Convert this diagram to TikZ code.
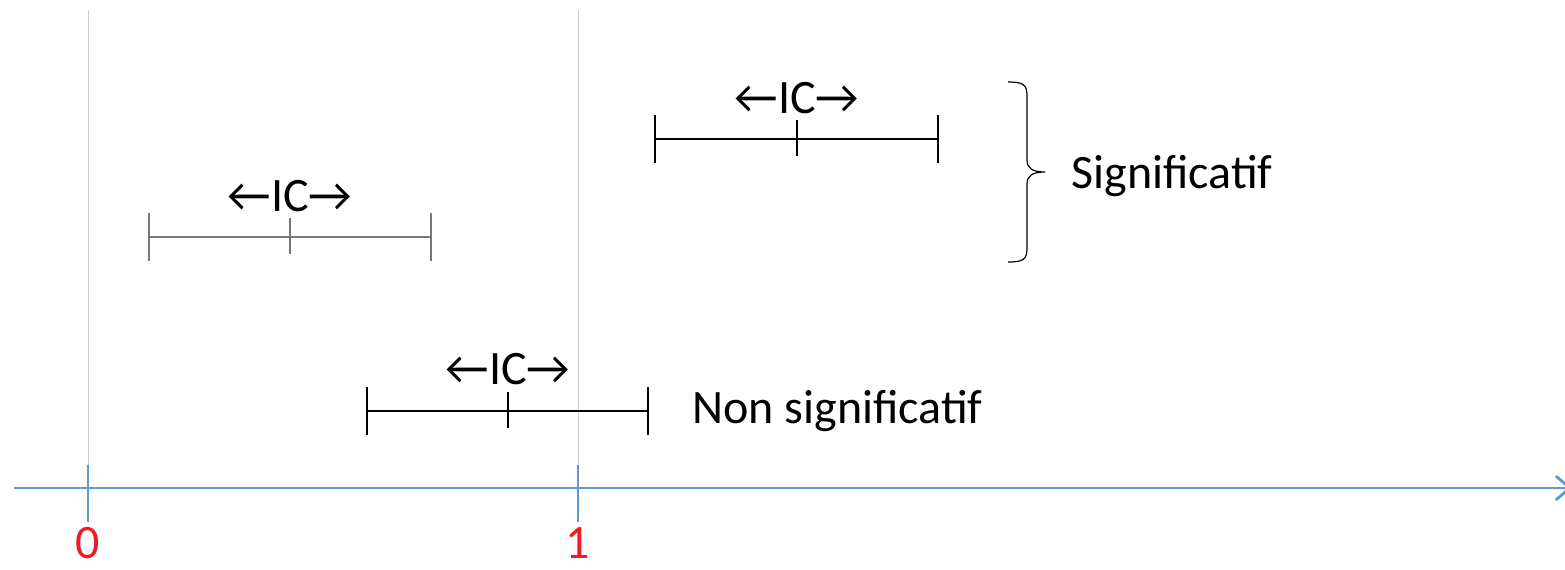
\documentclass[tikz,border=0pt]{standalone}
\usepackage{fontspec}
\setmainfont{Carlito}
\usepackage{tikz}
\usetikzlibrary{positioning,arrows.meta}
\definecolor{axisblue}{RGB}{91,155,213}
\definecolor{refgrey}{RGB}{205,205,205}
\definecolor{midgrey}{RGB}{120,120,120}
\definecolor{numred}{RGB}{237,28,36}

\begin{document}
\begin{tikzpicture}[x=0.5pt,y=-0.5pt,
refline/.style={draw=refgrey, line width=0.5pt},
axis/.style={draw=axisblue, line width=1.4pt},
tick/.style={draw=axisblue, line width=0.6pt},
ci/.style={line width=0.6pt},
lbl/.style={inner sep=0pt, font=\fontsize{24}{28}\selectfont},
num/.style={lbl, text=numred},
]
\useasboundingbox (0,0) rectangle (1565,569);

% reference lines and axis
\coordinate (z0) at (88,10);
\coordinate (z1) at (578,10);
\coordinate (t0) at (88,465);
\coordinate (t1) at (578,465);
\coordinate (b0) at (88,522);
\coordinate (b1) at (578,522);
\coordinate (ax0) at (14,488);
\coordinate (ax1) at (1572,488);

\path[refline] (z0) edge (t0) (z1) edge (t1);
\path[tick] (t0) edge (b0) (t1) edge (b1);
\draw[axis, -{Straight Barb[length=7pt,width=12pt]}] (ax0) -- (ax1);

\node[num, anchor=base] (n0) at (88,558) {0};
\node[num, anchor=base] (n1) at (578,558) {1};

% intervals
\coordinate (a1) at (655,139);
\coordinate (a2) at (797,139);
\coordinate (a3) at (938,139);
\coordinate (c1) at (149,237);
\coordinate (c2) at (290,237);
\coordinate (c3) at (431,237);
\coordinate (d1) at (367,411);
\coordinate (d2) at (508,411);
\coordinate (d3) at (648,411);

\draw[ci] (a1) -- (a3);
\draw[ci] (a1) ++(0,-24) -- ++(0,48);
\draw[ci] (a3) ++(0,-24) -- ++(0,48);
\draw[ci] (a2) ++(0,-19) -- ++(0,36);

\draw[ci, draw=midgrey] (c1) -- (c3);
\draw[ci, draw=midgrey] (c1) ++(0,-24) -- ++(0,48);
\draw[ci, draw=midgrey] (c3) ++(0,-24) -- ++(0,48);
\draw[ci, draw=midgrey] (c2) ++(0,-19) -- ++(0,36);

\draw[ci] (d1) -- (d3);
\draw[ci] (d1) ++(0,-24) -- ++(0,48);
\draw[ci] (d3) ++(0,-24) -- ++(0,48);
\draw[ci] (d2) ++(0,-19) -- ++(0,36);

\node[lbl, anchor=base] (ica) at (797,113) {←IC→};
\node[lbl, anchor=base] (icc) at (290,211) {←IC→};
\node[lbl, anchor=base] (icd) at (508,384) {←IC→};

% brace and verdicts
\coordinate (br1) at (1008,82);
\coordinate (br2) at (1045,172);
\coordinate (br3) at (1008,262);
\draw[line width=0.6pt] (br1) .. controls (1022,82) and (1027,84) .. (1027,95)
  -- (1027,160) .. controls (1027,168) and (1032,172) .. (br2)
  .. controls (1032,172) and (1027,176) .. (1027,184)
  -- (1027,249) .. controls (1027,260) and (1022,262) .. (br3);

\node[lbl, anchor=base west] (sig) at (1071,188) {Significatif};
\node[lbl, anchor=base west] (nsig) at (692,423) {Non significatif};
\end{tikzpicture}
\end{document}
